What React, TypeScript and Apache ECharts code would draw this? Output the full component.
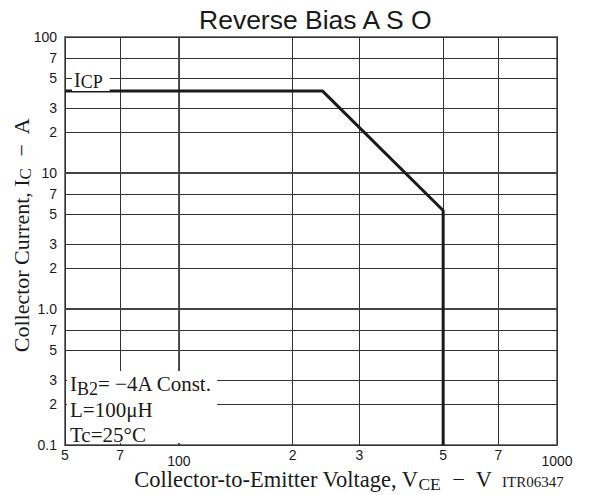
import React, { useEffect, useRef } from 'react';
import * as echarts from 'echarts';

const xTicks = [50, 70, 100, 200, 300, 500, 700, 1000];
const xTickLabels = ['5', '7', '100', '2', '3', '5', '7', '1000'];
const decadeX = [100, 1000];
const yTicks = [0.1, 0.2, 0.3, 0.5, 0.7, 1, 2, 3, 5, 7, 10, 20, 30, 50, 70, 100];
const yTickLabels = ['0.1', '2', '3', '5', '7', '1.0', '2', '3', '5', '7', '10', '2', '3', '5', '7', '100'];
const decadeLinesX = [100];
const decadeLinesY = [1, 10];
const curveV = [50, 240, 500, 500];
const curveI = [40, 40, 5.3, 0.1];

const SERIF = '"Liberation Serif", "Times New Roman", serif';
const SANS = '"Liberation Sans", Arial, sans-serif';
const INK = '#1a1a1a';

function findTick(ticks: number[], v: number): number {
  for (let i = 0; i < ticks.length; i++) {
    if (Math.abs(v - ticks[i]) / ticks[i] < 1e-6) return i;
  }
  return -1;
}

const serif = (fs: number, shift = 0, lh?: number) => ({
  fontFamily: SERIF,
  fontSize: fs,
  fill: INK,
  padding: [shift, 0, 0, 0],
  ...(lh ? { lineHeight: lh } : {}),
});

export default function App() {
  const ref = useRef<HTMLDivElement>(null);
  useEffect(() => {
    document.body.style.margin = '0';
    if (!ref.current) return;
    const chart = echarts.init(ref.current, null, { renderer: 'svg' });
    chart.setOption({
      animation: false,
      backgroundColor: '#fff',
      title: {
        text: 'Reverse Bias A S O',
        left: 194,
        top: 1,
        textStyle: { fontFamily: SANS, fontSize: 26.5, fontWeight: 'normal', color: INK },
      },
      grid: {
        left: 65,
        right: 32,
        top: 37,
        bottom: 50,
        show: true,
        borderColor: '#777',
        borderWidth: 2,
      },
      xAxis: {
        type: 'log',
        min: 50,
        max: 1000,
        axisLine: { show: false },
        axisTick: { show: false, customValues: xTicks },
        splitLine: { show: true, customValues: xTicks, lineStyle: { color: '#333', width: 1 } },
        axisLabel: {
          customValues: xTicks,
          showMinLabel: true,
          showMaxLabel: true,
          margin: 3,
          fontFamily: SANS,
          fontSize: 14,
          color: INK,
          formatter: (v: number) => {
            const i = findTick(xTicks, v);
            if (i < 0) return '';
            return decadeX.includes(xTicks[i]) ? `{d|${xTickLabels[i]}}` : `{n|${xTickLabels[i]}}`;
          },
          rich: {
            n: { fontFamily: SANS, fontSize: 14, color: INK },
            d: { fontFamily: SANS, fontSize: 14, color: INK, padding: [6, 0, 0, 0] },
          },
        },
      },
      yAxis: {
        type: 'log',
        min: 0.1,
        max: 100,
        axisLine: { show: false },
        axisTick: { show: false, customValues: yTicks },
        splitLine: { show: true, customValues: yTicks, lineStyle: { color: '#333', width: 1 } },
        axisLabel: {
          customValues: yTicks,
          showMinLabel: true,
          showMaxLabel: true,
          margin: 8,
          fontFamily: SANS,
          fontSize: 14,
          color: INK,
          formatter: (v: number) => {
            const i = findTick(yTicks, v);
            return i < 0 ? '' : yTickLabels[i];
          },
        },
      },
      series: [
        {
          type: 'line',
          data: curveV.map((v, i) => [v, curveI[i]]),
          showSymbol: false,
          clip: true,
          z: 5,
          lineStyle: { color: INK, width: 3 },
          markLine: {
            silent: true,
            symbol: 'none',
            label: { show: false },
            lineStyle: { color: '#444', width: 1.8, type: 'solid' },
            data: [
              ...decadeLinesX.map((x) => ({ xAxis: x })),
              ...decadeLinesY.map((y) => ({ yAxis: y })),
            ],
          },
        },
      ],
      graphic: [
        {
          type: 'text',
          x: 21,
          y: 235,
          rotation: Math.PI / 2,
          z: 100,
          style: {
            text: '{m|Collector Current, I}{s|C}{m|  \u2212  A}',
            rich: { m: serif(22, 0, 18), s: serif(17, 9, 18) },
            align: 'center',
            verticalAlign: 'middle',
          },
        },
        {
          type: 'text',
          x: 313,
          y: 479,
          z: 100,
          style: {
            text: '{m|Collector-to-Emitter Voltage, V}{s|CE}{m|  \u2212  V}',
            rich: { m: serif(22.5, 0, 18), s: serif(17.5, 9, 18) },
            align: 'center',
            verticalAlign: 'middle',
          },
        },
        {
          type: 'text',
          x: 502,
          y: 482,
          z: 100,
          style: {
            text: 'ITR06347',
            fontFamily: SERIF,
            fontSize: 15,
            fill: INK,
            align: 'left',
            verticalAlign: 'middle',
          },
        },
        {
          type: 'text',
          x: 72,
          y: 80,
          z: 100,
          style: {
            text: '{m|I}{s|CP}',
            rich: { m: serif(20), s: serif(18, 4) },
            align: 'left',
            verticalAlign: 'middle',
            backgroundColor: '#fff',
            padding: [0, 7, 0, 2],
          },
        },
        {
          type: 'rect',
          z: 99,
          shape: { x: 67, y: 371, width: 150, height: 72 },
          style: { fill: '#fff' },
        },
        {
          type: 'text',
          x: 70,
          y: 384,
          z: 100,
          style: {
            text: '{m|I}{s|B2}{m|= \u22124A Const.}',
            rich: { m: serif(21), s: serif(18, 9) },
            align: 'left',
            verticalAlign: 'middle',
          },
        },
        {
          type: 'text',
          x: 70,
          y: 410,
          z: 100,
          style: {
            text: 'L=100\u03bcH',
            fontFamily: SERIF,
            fontSize: 21,
            fill: INK,
            align: 'left',
            verticalAlign: 'middle',
          },
        },
        {
          type: 'text',
          x: 70,
          y: 435,
          z: 100,
          style: {
            text: 'Tc=25\u00b0C',
            fontFamily: SERIF,
            fontSize: 21,
            fill: INK,
            align: 'left',
            verticalAlign: 'middle',
          },
        },
      ],
    });
    return () => chart.dispose();
  }, []);
  return <div ref={ref} style={{ width: 589, height: 495 }} />;
}
